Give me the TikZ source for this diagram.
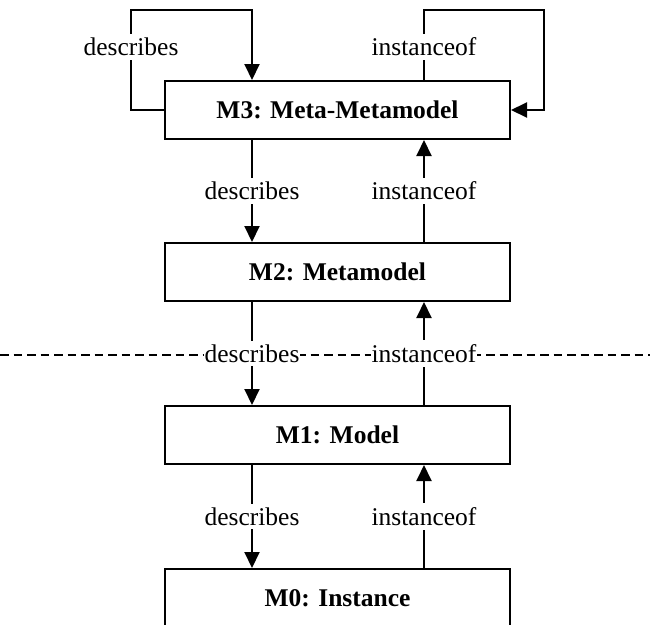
\documentclass[tikz,border=0pt]{standalone}
\usepackage{fontspec}
\setmainfont{Liberation Serif}
\usetikzlibrary{arrows.meta,calc}
\begin{document}
\begin{tikzpicture}[x=1pt,y=-1pt,
  level/.style={draw,line width=2pt,minimum width=345pt,minimum height=58pt,
    inner sep=0pt,font=\fontsize{25.5}{30}\selectfont\bfseries},
  link/.style={line width=2pt},
  arr/.style={link,-{Triangle[length=16pt,width=15pt]}},
  lbl/.style={fill=white,inner xsep=1pt,inner ysep=4pt,
    font=\fontsize{25.5}{30}\selectfont},
  sep/.style={line width=1.8pt,dash pattern=on 8.5pt off 5pt}]
\clip (0,0) rectangle (650,624);

% metalevel boxes
\node[level] (m3) at (337.5,110) {M3: Meta-Metamodel};
\node[level] (m2) at (337.5,272) {M2: Metamodel};
\node[level] (m1) at (337.5,435) {M1: Model};
\node[level] (m0) at (337.5,598) {M0: Instance};

% columns of the two relations
\coordinate (dx) at (252,0);
\coordinate (ix) at (424,0);

% separator between metamodel and model layers
\coordinate (sepL) at (0,355);
\coordinate (sepR) at (650,355);
\draw[sep] (sepL) -- (sepR);

% self-loops on M3
\coordinate (dl1) at (131,110);
\coordinate (dl2) at (131,10);
\coordinate (dl3) at (252,10);
\draw[arr] (m3.west) -- (dl1) -- node[lbl,pos=0.63] (d33) {describes} (dl2) -- (dl3) -- (m3.north -| dx);

\coordinate (il1) at (424,10);
\coordinate (il2) at (544,10);
\coordinate (il3) at (544,110);
\draw[arr] (m3.north -| ix) -- node[lbl,pos=0.47] (i33) {instanceof} (il1) -- (il2) -- (il3) -- (m3.east);

% describes: downward
\draw[arr] (m3.south -| dx) -- node[lbl] (d32) {describes} (m2.north -| dx);
\draw[arr] (m2.south -| dx) -- node[lbl] (d21) {describes} (m1.north -| dx);
\draw[arr] (m1.south -| dx) -- node[lbl] (d10) {describes} (m0.north -| dx);

% instanceof: upward
\draw[arr] (m2.north -| ix) -- node[lbl] (i23) {instanceof} (m3.south -| ix);
\draw[arr] (m1.north -| ix) -- node[lbl] (i12) {instanceof} (m2.south -| ix);
\draw[arr] (m0.north -| ix) -- node[lbl] (i01) {instanceof} (m1.south -| ix);
\end{tikzpicture}
\end{document}
